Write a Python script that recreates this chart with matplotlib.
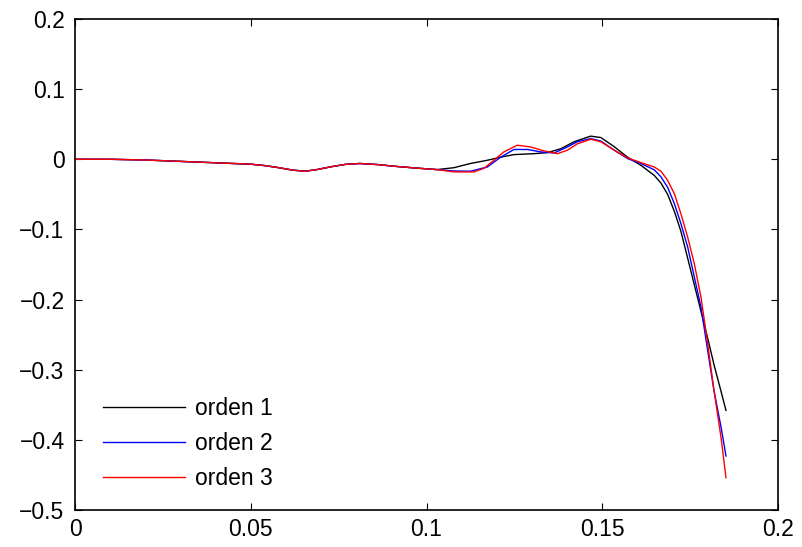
import matplotlib
matplotlib.use('Agg')
import matplotlib.pyplot as plt

plt.rcParams['font.family'] = ['Liberation Sans', 'DejaVu Sans']

# tramo comun (las tres curvas coinciden hasta x ~ 0.103)
x_comun = [0, 0.01, 0.02, 0.03, 0.04, 0.05, 0.054, 0.058, 0.062, 0.0655,
           0.069, 0.073, 0.077, 0.081, 0.086, 0.091, 0.097, 0.103]
y_comun = [0, 0, -0.001, -0.003, -0.005, -0.007, -0.009, -0.012, -0.0155, -0.017,
           -0.0145, -0.0105, -0.0072, -0.006, -0.0075, -0.010, -0.0125, -0.0147]

# orden 1
x_o1 = [0.1078, 0.1125, 0.1173, 0.1211, 0.1249, 0.1306, 0.1344, 0.1382, 0.1420,
        0.1467, 0.1496, 0.1534, 0.1572, 0.1610, 0.1648, 0.1667, 0.1686, 0.1705,
        0.1724, 0.1743, 0.1762, 0.1781, 0.1800, 0.1818, 0.1838, 0.1852]
y_o1 = [-0.012, -0.006, -0.0014, 0.003, 0.0067, 0.008, 0.0095, 0.015, 0.025,
        0.033, 0.031, 0.018, 0.003, -0.0086, -0.023, -0.034, -0.050, -0.074,
        -0.103, -0.141, -0.179, -0.217, -0.255, -0.293, -0.331, -0.358]

# orden 2
x_o2 = [0.1078, 0.1125, 0.1173, 0.1211, 0.1249, 0.1287, 0.1325, 0.1363, 0.1401,
        0.1429, 0.1467, 0.1496, 0.1534, 0.1572, 0.1610, 0.1648, 0.1667, 0.1686,
        0.1705, 0.1724, 0.1743, 0.1762, 0.1781, 0.1800, 0.1818, 0.1838, 0.1852]
y_o2 = [-0.0167, -0.017, -0.011, 0.003, 0.014, 0.014, 0.0105, 0.009, 0.0176,
        0.025, 0.0295, 0.026, 0.013, 0.001, -0.006, -0.015, -0.025, -0.040,
        -0.063, -0.092, -0.125, -0.168, -0.211, -0.273, -0.330, -0.382, -0.423]

# orden 3
x_o3 = [0.1078, 0.1135, 0.1163, 0.1192, 0.1220, 0.1258, 0.1296, 0.1334, 0.1372,
        0.1401, 0.1429, 0.1467, 0.1496, 0.1534, 0.1572, 0.1610, 0.1648, 0.1667,
        0.1686, 0.1705, 0.1724, 0.1743, 0.1762, 0.1781, 0.1800, 0.1818, 0.1838,
        0.1852]
y_o3 = [-0.018, -0.018, -0.013, -0.0014, 0.0105, 0.020, 0.0176, 0.012, 0.008,
        0.013, 0.022, 0.0286, 0.025, 0.013, 0.002, -0.0047, -0.011, -0.017,
        -0.030, -0.049, -0.078, -0.111, -0.149, -0.197, -0.263, -0.330, -0.397,
        -0.454]

fig = plt.figure(figsize=(8.02, 5.47), dpi=100)
ax = fig.add_axes([75 / 802, 37 / 547, 703 / 802, 491 / 547])

ax.plot(x_comun + x_o1, y_comun + y_o1, color='black', lw=1.0, label='orden 1')
ax.plot(x_comun + x_o2, y_comun + y_o2, color='blue', lw=1.0, label='orden 2')
ax.plot(x_comun + x_o3, y_comun + y_o3, color='red', lw=1.0, label='orden 3')

ax.set_xlim(0, 0.2)
ax.set_ylim(-0.5, 0.2)
ax.set_xticks([0, 0.05, 0.1, 0.15, 0.2])
ax.set_xticklabels(['0', '0.05', '0.1', '0.15', '0.2'])
ax.set_yticks([-0.5, -0.4, -0.3, -0.2, -0.1, 0, 0.1, 0.2])
ax.set_yticklabels(['\u22120.5', '\u22120.4', '\u22120.3', '\u22120.2', '\u22120.1',
                    '0', '0.1', '0.2'])
ax.tick_params(direction='in', length=5, width=0.8, labelsize=16.5,
               top=True, right=True)
ax.tick_params(axis='x', pad=6)
ax.tick_params(axis='y', pad=7.5)
for s in ax.spines.values():
    s.set_linewidth(1.2)

ax.legend(loc='lower left', bbox_to_anchor=(0.027, 0.023), frameon=False,
          fontsize=16.5, handlelength=3.58, handletextpad=0.44, labelspacing=0.515,
          borderaxespad=0)

fig.savefig('out.png', dpi=100)
